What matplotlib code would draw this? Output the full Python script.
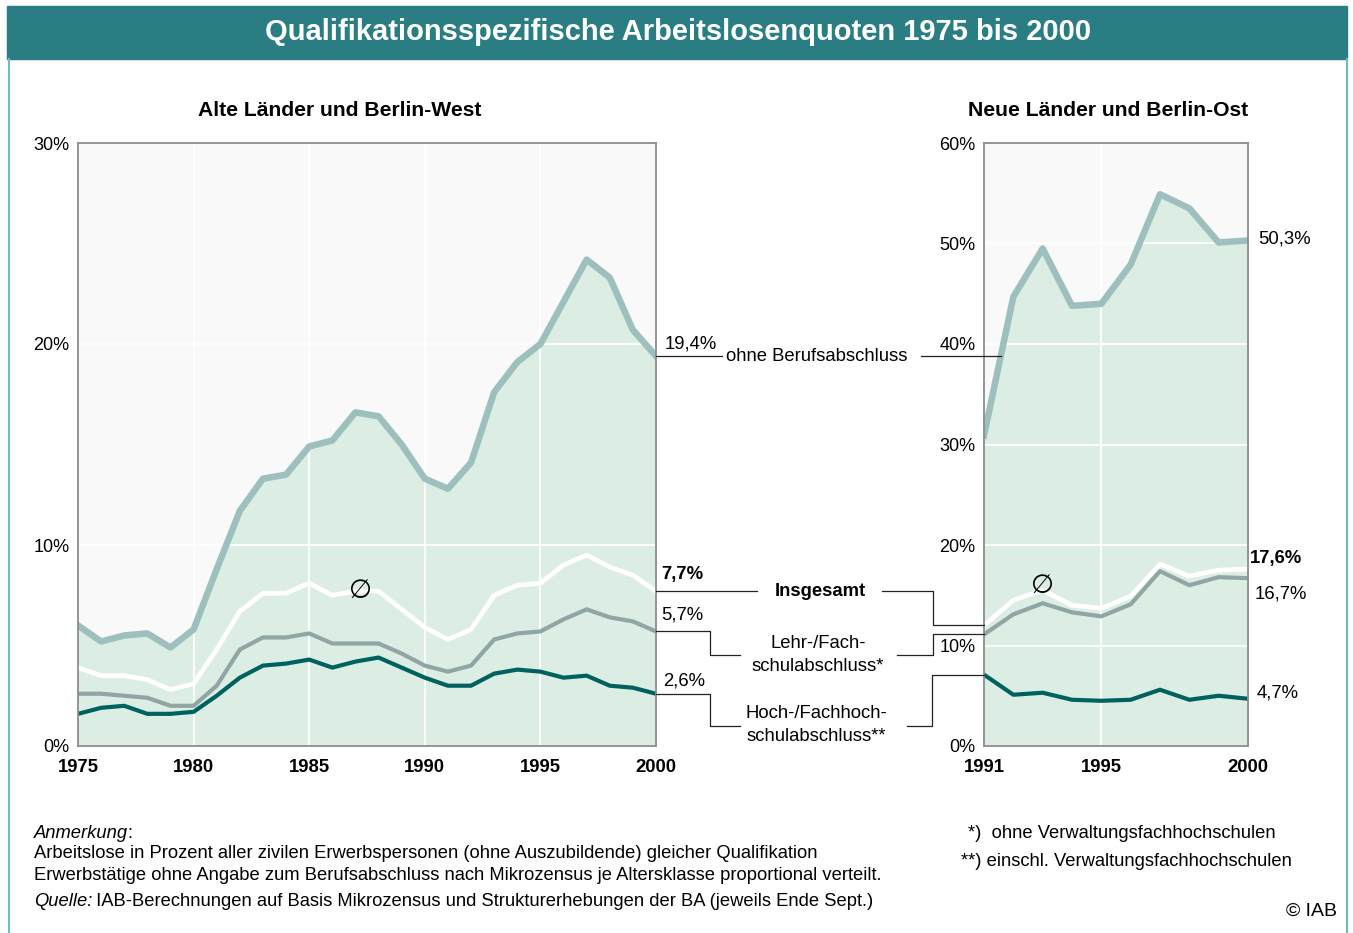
import numpy as np
import matplotlib
matplotlib.use("Agg")
import matplotlib.pyplot as plt
from matplotlib.patches import Rectangle
from matplotlib.lines import Line2D

plt.rcParams['font.family'] = ['Liberation Sans', 'DejaVu Sans']

# ---------------- data ----------------
years_west = list(range(1975, 2001))
west_ohne = [6.0, 5.2, 5.5, 5.6, 4.9, 5.8, 8.8, 11.7, 13.3, 13.5, 14.9, 15.2, 16.6,
             16.4, 15.0, 13.3, 12.8, 14.1, 17.6, 19.1, 20.0, 22.1, 24.2, 23.3, 20.7, 19.4]
west_insg = [3.9, 3.5, 3.5, 3.3, 2.8, 3.1, 4.8, 6.7, 7.6, 7.6, 8.1, 7.5, 7.7,
             7.7, 6.8, 5.9, 5.3, 5.8, 7.5, 8.0, 8.1, 9.0, 9.5, 8.9, 8.5, 7.7]
west_lehr = [2.6, 2.6, 2.5, 2.4, 2.0, 2.0, 3.0, 4.8, 5.4, 5.4, 5.6, 5.1, 5.1,
             5.1, 4.6, 4.0, 3.7, 4.0, 5.3, 5.6, 5.7, 6.3, 6.8, 6.4, 6.2, 5.7]
west_hoch = [1.6, 1.9, 2.0, 1.6, 1.6, 1.7, 2.5, 3.4, 4.0, 4.1, 4.3, 3.9, 4.2,
             4.4, 3.9, 3.4, 3.0, 3.0, 3.6, 3.8, 3.7, 3.4, 3.5, 3.0, 2.9, 2.6]

years_ost = list(range(1991, 2001))
ost_ohne = [30.9, 44.7, 49.5, 43.8, 44.0, 47.9, 54.9, 53.5, 50.1, 50.3]
ost_insg = [12.0, 14.5, 15.5, 14.0, 13.7, 14.9, 18.1, 16.9, 17.5, 17.6]
ost_lehr = [11.1, 13.1, 14.2, 13.3, 12.9, 14.1, 17.4, 16.0, 16.8, 16.7]
ost_hoch = [7.1, 5.1, 5.3, 4.6, 4.5, 4.6, 5.6, 4.6, 5.0, 4.7]

west_xticks = [1975, 1980, 1985, 1990, 1995, 2000]
west_yticks = [0, 10, 20, 30]
ost_xticks = [1991, 1995, 2000]
ost_yticks = [0, 10, 20, 30, 40, 50, 60]

title = "Qualifikationsspezifische Arbeitslosenquoten 1975 bis 2000"
sub_west = "Alte Länder und Berlin-West"
sub_ost = "Neue Länder und Berlin-Ost"

# ---------------- style ----------------
W, H = 1353, 933
C_BANNER = '#2A7D82'
C_FRAME = '#6BBDBE'
C_BG = '#F9F9F9'
C_FILL = '#DCEDE4'
C_OHNE = '#9DC0BE'
C_LEHR = '#8FA6A4'
C_HOCH = '#00625F'
C_INSG = '#FFFFFF'
C_SPINE = '#8C8C8C'

LBL = 13.3   # annotation font size

fig = plt.figure(figsize=(W / 100, H / 100), dpi=100)


def fx(x):
    return x / W


def fy(y):
    return 1 - y / H


def px_from_data(ax, x, y):
    p = ax.transData.transform((x, y))
    return p[0], H - p[1]


def fmt(v):
    return f"{v:.1f}%".replace('.', ',')


# banner and frame
fig.patches.append(Rectangle((fx(7), fy(59)), fx(1347) - fx(7), fy(6) - fy(59),
                             transform=fig.transFigure, color=C_BANNER, zorder=0))
fig.text(fx(678), fy(32), title, color='white', fontsize=21, fontweight='bold',
         ha='center', va='center')
for xx in (8.5, 1346.5):
    fig.lines.append(Line2D([fx(xx), fx(xx)], [fy(59), fy(933)], transform=fig.transFigure,
                            color=C_FRAME, lw=1.5))

axW = fig.add_axes([fx(78), fy(746), fx(656) - fx(78), fy(143) - fy(746)])
axO = fig.add_axes([fx(984), fy(746), fx(1248) - fx(984), fy(143) - fy(746)])


def style(ax, years, ohne, insg, lehr, hoch, xt, yt, ymax):
    ax.set_facecolor(C_BG)
    ax.fill_between(years, 0, ohne, color=C_FILL, lw=0, zorder=0.3)
    ax.plot(years, ohne, color=C_OHNE, lw=4.7, zorder=3)
    ax.plot(years, hoch, color=C_HOCH, lw=3.0, zorder=3)
    ax.plot(years, lehr, color=C_LEHR, lw=3.0, zorder=3)
    ax.plot(years, insg, color=C_INSG, lw=3.4, zorder=4)
    ax.set_xlim(years[0], years[-1])
    ax.set_ylim(0, ymax)
    ax.set_xticks(xt)
    ax.set_yticks(yt)
    ax.set_xticklabels([str(v) for v in xt], fontweight='bold', fontsize=13.3)
    ax.set_yticklabels([f"{v}%" for v in yt], fontsize=13)
    ax.tick_params(length=0)
    ax.tick_params(axis='x', pad=9.5)
    ax.tick_params(axis='y', pad=6)
    ax.set_axisbelow(True)
    ax.grid(True, color='white', lw=1.3)
    for s in ax.spines.values():
        s.set_color(C_SPINE)
        s.set_linewidth(1.3)
        s.set_zorder(5)


style(axW, years_west, west_ohne, west_insg, west_lehr, west_hoch, west_xticks, west_yticks, 30)
style(axO, years_ost, ost_ohne, ost_insg, ost_lehr, ost_hoch, ost_xticks, ost_yticks, 60)

fig.text(fx(340), fy(111), sub_west, fontsize=15.2, fontweight='bold', ha='center', va='center')
fig.text(fx(1108), fy(111), sub_ost, fontsize=15.2, fontweight='bold', ha='center', va='center')

# diameter symbols
axW.text(1987.2, west_insg[12], '\u2205', family=['DejaVu Sans'], fontsize=19,
         ha='center', va='center', zorder=6)
axO.text(1993.0, ost_insg[2] + 0.4, '\u2205', family=['DejaVu Sans'], fontsize=19,
         ha='center', va='center', zorder=6)


# end labels
def endlabel(ax, x, v, dx, dy, bold=False):
    ax.annotate(fmt(v), xy=(x, v), xytext=(dx * 0.72, dy * 0.72), textcoords='offset points',
                ha='left', va='center', fontsize=LBL,
                fontweight='bold' if bold else 'normal', annotation_clip=False)


endlabel(axW, 2000, west_ohne[-1], 9, 12)
endlabel(axW, 2000, west_insg[-1], 5, 17, bold=True)
endlabel(axW, 2000, west_lehr[-1], 5, 16)
endlabel(axW, 2000, west_hoch[-1], 7, 13)
endlabel(axO, 2000, ost_ohne[-1], 10, 1)
endlabel(axO, 2000, ost_insg[-1], 2, 11, bold=True)
endlabel(axO, 2000, ost_lehr[-1], 7, -16)
endlabel(axO, 2000, ost_hoch[-1], 9, 6)

fig.canvas.draw()


def pline(xs, ys):
    fig.lines.append(Line2D([fx(x) for x in xs], [fy(y) for y in ys], transform=fig.transFigure,
                            color='#222222', lw=0.9, zorder=10))


# ohne Berufsabschluss
_, yO = px_from_data(axW, 2000, west_ohne[-1])
pline([656, 722], [yO, yO])
fig.text(fx(726), fy(yO), 'ohne Berufsabschluss', fontsize=LBL, ha='left', va='center')
v_at = axO.transData.inverted().transform((0, H - yO))[1]
x_cross = np.interp(v_at, ost_ohne[:2], years_ost[:2])
xc, _ = px_from_data(axO, x_cross, v_at)
pline([921, xc], [yO, yO])

# Insgesamt
_, yI = px_from_data(axW, 2000, west_insg[-1])
_, yIr = px_from_data(axO, 1991, ost_insg[0])
pline([656, 757], [yI, yI])
fig.text(fx(820), fy(yI), 'Insgesamt', fontsize=LBL, fontweight='bold', ha='center', va='center')
pline([882, 933, 933, 984], [yI, yI, yIr, yIr])

# Lehr-/Fachschulabschluss
_, yL = px_from_data(axW, 2000, west_lehr[-1])
_, yLr = px_from_data(axO, 1991, ost_lehr[0])
pline([656, 710, 710, 740], [yL, yL, 655, 655])
fig.text(fx(818), fy(655), 'Lehr-/Fach-\nschulabschluss*', fontsize=LBL, ha='center',
         va='center', multialignment='center', linespacing=1.45)
pline([897, 933, 933, 984], [655, 655, yLr, yLr])

# Hoch-/Fachhochschulabschluss
_, yH = px_from_data(axW, 2000, west_hoch[-1])
_, yHr = px_from_data(axO, 1991, ost_hoch[0])
pline([656, 710, 710, 740], [yH, yH, 726, 726])
fig.text(fx(816), fy(725), 'Hoch-/Fachhoch-\nschulabschluss**', fontsize=LBL, ha='center',
         va='center', multialignment='center', linespacing=1.45)
pline([907, 932, 932, 984], [726, 726, yHr, yHr])

# footnotes
renderer = fig.canvas.get_renderer()
FS = 13.2


def mixed(x, y, parts):
    for txt, style_ in parts:
        t = fig.text(fx(x), fy(y), txt, fontsize=FS, style=style_, ha='left', va='center')
        bb = t.get_window_extent(renderer=renderer)
        x += bb.width - 1


mixed(34, 833, [('Anmerkung', 'italic'), (':', 'normal')])
fig.text(fx(34), fy(854), 'Arbeitslose in Prozent aller zivilen Erwerbspersonen (ohne Auszubildende) gleicher Qualifikation',
         fontsize=FS, ha='left', va='center')
fig.text(fx(34), fy(876), 'Erwerbstätige ohne Angabe zum Berufsabschluss nach Mikrozensus je Altersklasse proportional verteilt.',
         fontsize=FS, ha='left', va='center')
mixed(34, 902, [('Quelle:', 'italic'),
                (' IAB-Berechnungen auf Basis Mikrozensus und Strukturerhebungen der BA (jeweils Ende Sept.)', 'normal')])
fig.text(fx(968), fy(834), '*)  ohne Verwaltungsfachhochschulen', fontsize=FS, ha='left', va='center')
fig.text(fx(961), fy(862), '**) einschl. Verwaltungsfachhochschulen', fontsize=FS, ha='left', va='center')
fig.text(fx(1337), fy(911), '\u00a9 IAB', fontsize=14, ha='right', va='center')

fig.savefig('out.png', dpi=100)
